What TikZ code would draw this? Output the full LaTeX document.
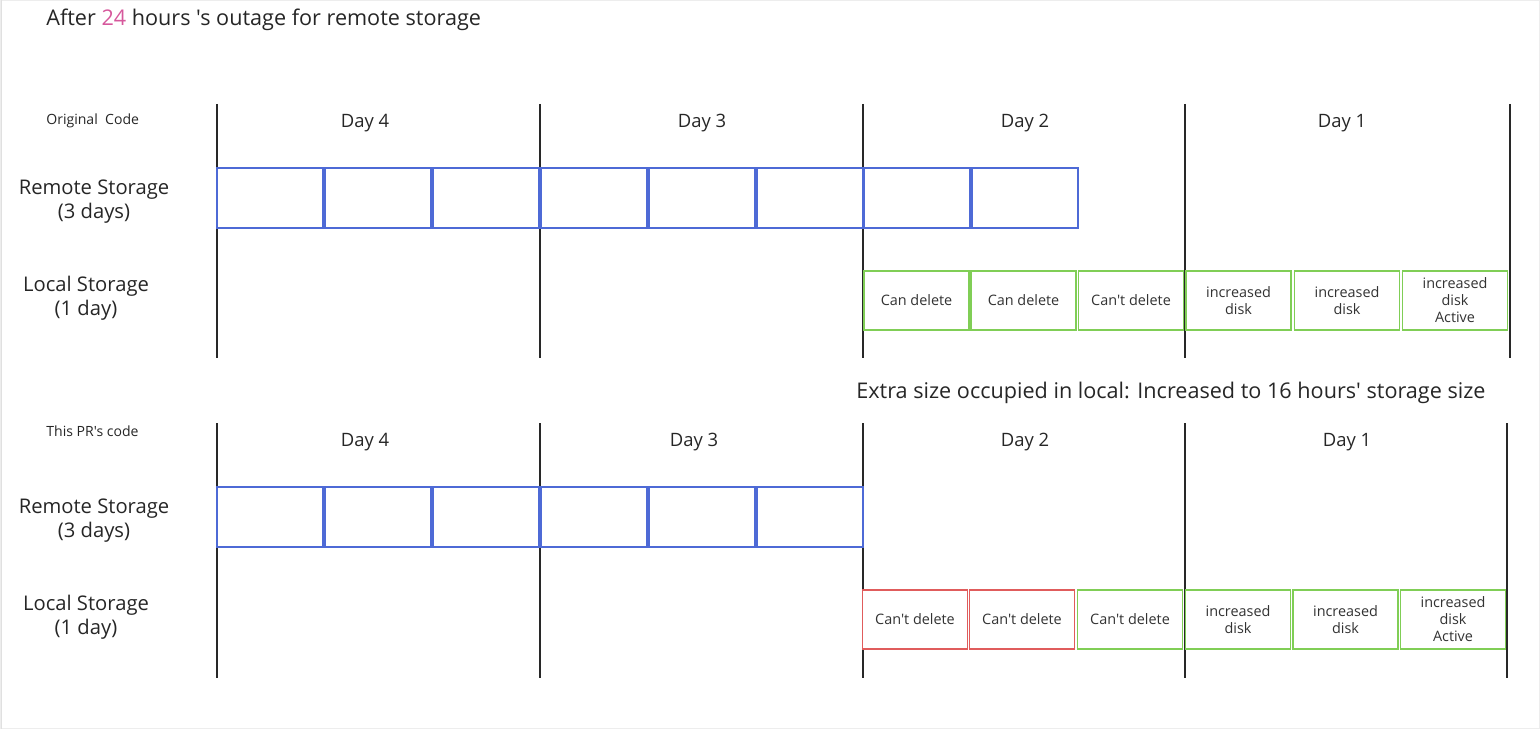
\documentclass[tikz,border=0pt]{standalone}
\usepackage{fontspec}
\setmainfont{Open Sans}[Ligatures=TeXOff]
\definecolor{remoteblue}{RGB}{78,106,214}
\definecolor{localgreen}{RGB}{128,206,86}
\definecolor{blockred}{RGB}{224,92,92}
\definecolor{hourpink}{RGB}{214,88,156}
\definecolor{divgray}{RGB}{40,40,40}

\begin{document}
\begin{tikzpicture}[x=0.02cm,y=-0.02cm,
    remote/.style={draw=remoteblue,fill=white,line width=0.75pt,minimum width=2.12cm,minimum height=1.2cm,inner sep=0pt},
    local/.style={draw=localgreen,fill=white,line width=0.85pt,minimum width=2.1cm,minimum height=1.18cm,inner sep=0pt,align=center,font=\fontsize{8.2}{9.7}\selectfont,text=black!80},
    blocked/.style={local,draw=blockred},
    day/.style={font=\fontsize{10.5}{12}\selectfont,text=black!85},
    rowlabel/.style={align=center,font=\fontsize{11.5}{13.7}\selectfont,text=black!85},
    small/.style={anchor=west,inner sep=0pt,font=\fontsize{8}{9}\selectfont,text=black!85},
    divider/.style={line width=0.9pt,draw=divgray}]
    \useasboundingbox (0,0) rectangle (1540,729);
    \draw[black!7] (0.5,0.5) rectangle (1539.5,728.5);
    \draw[black!12] (1,0) -- (1,729);

    % heading
    \node[anchor=west,inner sep=0pt,font=\fontsize{12.3}{14}\selectfont,text=black!85] (title) at (46,20)
        {After \textcolor{hourpink}{24} hours 's outage for remote storage};

    % ---- original code ----
    \node[small] (orig) at (46,121) {Original\ \ Code};
    \foreach \x in {217,540,863,1185,1510} \draw[divider] (\x,104) -- (\x,358);
    \node[day] (d4a) at (365,123) {Day 4};
    \node[day] (d3a) at (702,123) {Day 3};
    \node[day] (d2a) at (1025,123) {Day 2};
    \node[day] (d1a) at (1342,123) {Day 1};
    \node[rowlabel] (remA) at (94,202) {Remote Storage\\(3 days)};
    \node[rowlabel] (locA) at (86,298) {Local Storage\\(1 day)};

    \node[remote] (ra1) at (270,198) {};
    \node[remote] (ra2) at (378,198) {};
    \node[remote] (ra3) at (486,198) {};
    \node[remote] (ra4) at (594,198) {};
    \node[remote] (ra5) at (702,198) {};
    \node[remote] (ra6) at (810,198) {};
    \node[remote] (ra7) at (917,198) {};
    \node[remote] (ra8) at (1025,198) {};

    \node[local] (la1) at (916.5,300.5) {Can delete};
    \node[local] (la2) at (1023.5,300.5) {Can delete};
    \node[local] (la3) at (1131,300.5) {Can't delete};
    \node[local] (la4) at (1238.5,300.5) {increased\\disk};
    \node[local] (la5) at (1347,300.5) {increased\\disk};
    \node[local] (la6) at (1455,300.5) {increased\\disk\\Active};

    % ---- this PR ----
    \node[anchor=west,inner sep=0pt,font=\fontsize{12.3}{14}\selectfont,text=black!85] (extra) at (856,393)
        {Extra size occupied in local: Increased to 16 hours' storage size};
    \node[small] (pr) at (46,431) {This PR's code};
    \foreach \x in {217,540,863,1185,1507} \draw[divider] (\x,423) -- (\x,678);
    \node[day] (d4b) at (365,442) {Day 4};
    \node[day] (d3b) at (694,442) {Day 3};
    \node[day] (d2b) at (1025,442) {Day 2};
    \node[day] (d1b) at (1347,442) {Day 1};
    \node[rowlabel] (remB) at (94,521) {Remote Storage\\(3 days)};
    \node[rowlabel] (locB) at (86,617) {Local Storage\\(1 day)};

    \node[remote] (rb1) at (270,517) {};
    \node[remote] (rb2) at (378,517) {};
    \node[remote] (rb3) at (486,517) {};
    \node[remote] (rb4) at (594,517) {};
    \node[remote] (rb5) at (702,517) {};
    \node[remote] (rb6) at (810,517) {};

    \node[blocked] (lb1) at (915,619.5) {Can't delete};
    \node[blocked] (lb2) at (1022,619.5) {Can't delete};
    \node[local] (lb3) at (1130,619.5) {Can't delete};
    \node[local] (lb4) at (1238,619.5) {increased\\disk};
    \node[local] (lb5) at (1345.5,619.5) {increased\\disk};
    \node[local] (lb6) at (1453,619.5) {increased\\disk\\Active};
\end{tikzpicture}
\end{document}
